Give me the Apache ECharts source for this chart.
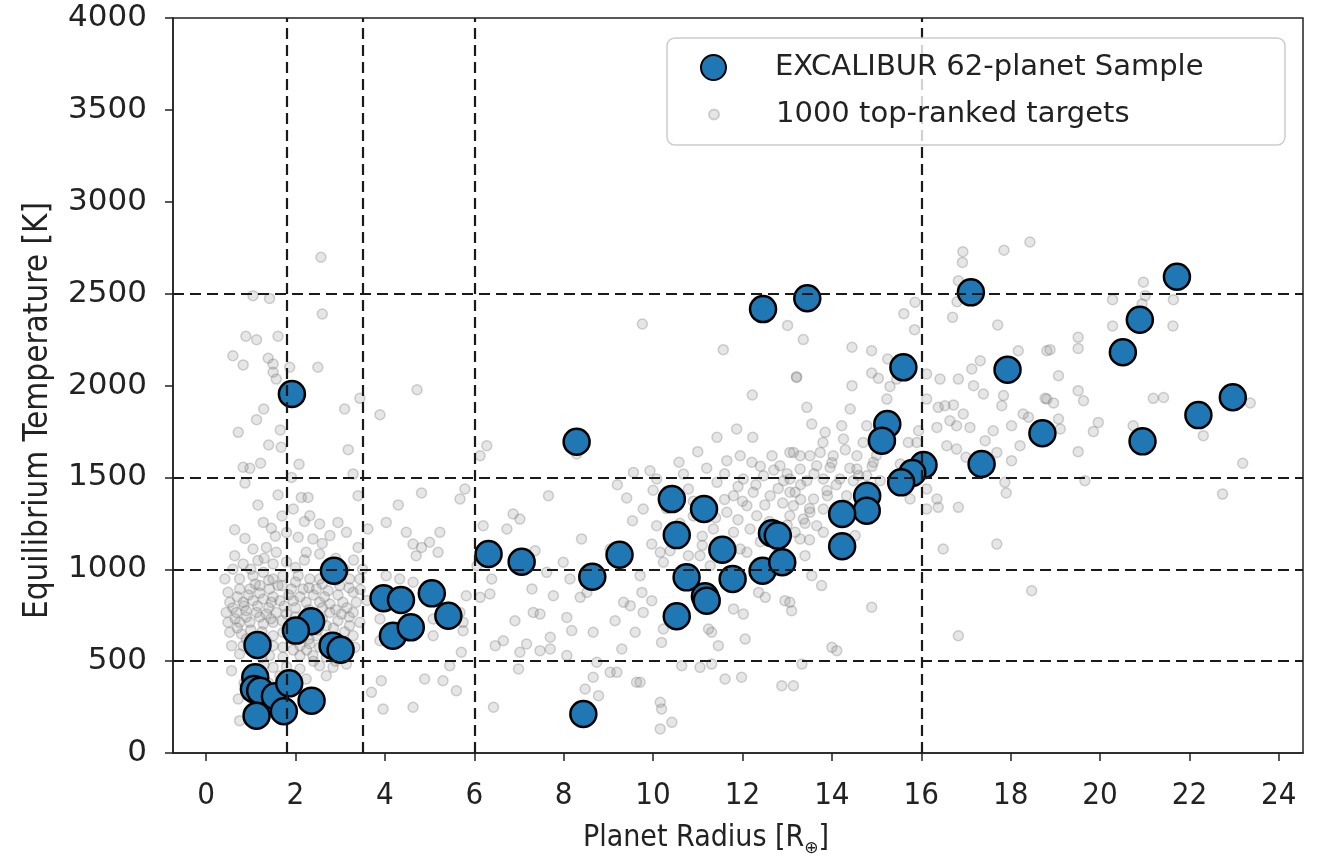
<!DOCTYPE html>
<html>
<head>
<meta charset="utf-8">
<script src="https://cdn.jsdelivr.net/npm/echarts@6/dist/echarts.min.js"></script>
<style>html,body{margin:0;padding:0;background:#fff;}#c{width:1319px;height:857px;}</style>
</head>
<body>
<div id="c"></div>
<script>
// ---- data ----
const xTicks = [0, 2, 4, 6, 8, 10, 12, 14, 16, 18, 20, 22, 24];
const yTicks = [0, 500, 1000, 1500, 2000, 2500, 3000, 3500, 4000];
const radiusCuts = [1.8, 3.5, 6, 16];
const tempCuts = [500, 1000, 1500, 2500];
const sampleName = 'EXCALIBUR 62-planet Sample';
const targetsName = '1000 top-ranked targets';

// EXCALIBUR sample [radius, Teq]
const excalibur = [
[1.92,1954],[2.86,992],[2.35,717],[2.01,666],[1.15,588],[2.83,584],[3.01,562],[1.10,412],[1.07,348],[1.21,339],
[1.54,309],[1.86,379],[2.36,285],[1.74,227],[1.13,203],[3.97,842],[4.36,833],[5.05,869],[5.42,747],[4.18,638],
[4.58,684],[8.29,1694],[6.32,1083],[7.06,1041],[8.64,959],[9.25,1079],[8.44,212],[10.42,1382],[11.14,1328],[10.53,1186],
[11.55,1106],[10.75,956],[11.78,947],[11.16,853],[11.20,829],[10.53,744],[12.66,1196],[12.79,1183],[12.45,992],[12.89,1038],
[12.46,2416],[13.45,2475],[17.11,2507],[21.72,2592],[20.89,2358],[20.51,2181],[15.60,2099],[17.93,2086],[22.97,1936],[22.20,1839],
[15.24,1790],[15.12,1700],[18.71,1740],[20.95,1696],[17.35,1573],[16.05,1567],[15.80,1524],[15.55,1473],[14.79,1400],[14.78,1319],
[14.23,1301],[14.23,1125]
];

// top-ranked targets [radius, Teq]
const targetsLowR = [
[2.57,2698],[1.05,2489],[1.42,2474],[2.60,2389],[0.89,2268],[1.13,2249],[1.61,2268],[0.60,2162],[0.83,2112],[1.39,2148],
[1.50,2117],[1.87,2099],[2.50,2099],[1.50,2072],[1.57,2035],[4.72,1977],[3.44,1930],[3.10,1872],[3.89,1841],[1.29,1872],
[1.13,1814],[0.72,1745],[1.66,1758],[1.40,1676],[1.68,1664],[3.18,1651],[2.08,1571],[1.22,1577],[0.83,1555],[0.98,1549],
[3.29,1518],[1.91,1500],
[0.87,1469],[1.61,1404],[1.16,1350],[2.13,1391],[2.28,1391],[3.40,1400],[4.82,1415],[4.30,1350],[5.68,1382],[5.79,1437],
[1.95,1328],[2.32,1291],[1.28,1255],[1.46,1223],[0.64,1215],[0.87,1168],[2.54,1246],[2.95,1255],[3.14,1201],[3.62,1219],
[2.06,1174],[2.39,1165],[2.77,1183],[3.40,1119],[4.63,1137],[4.82,1119],[5.00,1147],[5.23,1201],[5.19,1092],[4.70,1074],
[0.64,1074],[1.05,1110],[1.35,1119],[1.57,1092],[2.24,1092],[2.54,1083],[0.83,1029],[1.16,1047],[1.50,1029],[0.42,947],
[0.75,947],[1.05,965],[1.28,983],[1.50,947],[1.72,965],[2.06,965],[2.32,947],[2.54,947],[3.21,947],[3.44,947],
[0.49,875],[0.75,893],[0.98,893],[1.20,911],[1.42,893],[1.61,911],[1.91,893],[2.17,893],[2.47,893],[2.73,883],
[2.99,911],[3.29,875],[0.53,820],[0.83,820],[1.05,829],[1.28,838],[1.46,820],[1.65,829],[1.95,829],[2.24,820],
[2.54,820],[2.77,811],[3.06,820],[3.36,820],[0.45,765],[0.68,765],[0.90,774],[1.13,765],[1.35,756],[1.57,765],
[1.80,756],[2.77,765],[3.03,756],[3.29,765],[0.49,711],[0.75,711],[0.98,711],[1.28,702],[1.50,711],[2.69,693],
[3.21,693],[3.44,711],[0.53,657],[0.79,648],[1.50,638],[1.72,657],[2.47,638],[3.29,638],[0.57,584],[0.83,584],
[1.50,584],[1.72,575],[2.10,584],[2.32,593],[2.54,575],[3.33,575],[0.75,539],[1.42,530],[1.72,521],[2.10,530],
[2.39,530],[2.69,521],[3.14,530],[0.57,448],[1.50,466],[2.10,457],[2.54,475],[2.84,466],[3.14,484],[2.24,403],
[2.69,421],[0.72,294],[0.75,176],[3.92,393],[3.70,330],[3.96,239],[4.63,249],[4.89,403],[5.30,393],[5.60,339],
[5.45,475],[3.89,611],[5.08,638],[5.75,665],[5.71,548],[5.82,856],[5.75,711],[4.03,965],[4.33,947],[4.63,929],
[3.89,729],[5.08,729],[5.68,765],[4.03,1255],[4.48,1201],
[1.0,1000],[1.3,1060],[1.8,1040],[2.0,1010],[2.2,1050],[2.7,1020],[2.9,1060],[3.1,1000],[0.6,1000],[1.1,920],
[1.4,940],[1.7,910],[2.0,930],[2.3,900],[2.6,920],[2.9,940],[3.2,900],[0.7,850],[0.95,860],[1.2,870],
[1.5,850],[1.85,860],[2.1,850],[2.4,860],[2.65,850],[2.95,860],[0.6,790],[0.85,800],[1.15,800],[1.4,790],
[1.75,800],[2.0,790],[2.3,780],[2.6,790],[2.9,780],[3.15,790],[0.65,730],[0.9,740],[1.2,740],[1.45,730],
[1.7,720],[2.0,740],[2.35,740],[2.6,730],[2.95,720],[3.2,740],[0.7,680],[1.0,670],[1.25,660],[1.9,700],
[2.2,680],[2.5,670],[2.85,680],[3.1,660],[0.9,620],[1.1,630],[1.35,610],[1.9,620],[2.3,620],[2.75,630],
[3.05,610],[1.0,560],[1.25,520],[1.95,560],[2.25,560],[2.85,560],[3.0,520],[1.3,480],[1.8,470],[2.4,500],
[2.9,500],[1.0,440],[1.65,420],[2.0,400],[1.4,380],[0.85,380],[1.55,1180],[1.8,1200],[2.6,1140],[2.2,1260],
[1.7,1290],[3.3,1050],[3.5,1000],[3.45,890],[3.6,830]
];
const targetsMidR = [
[9.76,2335],[11.57,2195],[13.21,2048],[12.22,1948],[6.28,1672],[6.13,1618],[8.29,1627],[11.87,1763],[11.43,1718],[12.23,1718],
[11.00,1640],[11.65,1591],[11.95,1618],[12.66,1618],[13.14,1636],[10.58,1582],[12.21,1582],[12.84,1563],[9.56,1527],[9.93,1536],
[10.08,1491],[10.68,1518],[11.43,1473],[12.02,1491],[12.47,1509],[12.92,1482],[7.66,1400],[9.41,1388],[10.79,1437],[11.80,1400],
[12.24,1419],[12.62,1400],[13.06,1419],[9.78,1328],[6.87,1301],[7.02,1273],[6.20,1237],[6.73,1219],[9.54,1264],[10.08,1237],
[11.65,1310],[12.10,1346],[12.32,1291],[13.06,1291],[11.35,1219],[11.80,1201],[12.17,1219],[13.18,1201],[8.40,1165],[7.36,1101],
[9.97,1137],[10.16,1092],[10.38,1101],[10.79,1074],[11.05,1074],[11.95,1110],[12.10,1092],[9.04,1110],[7.99,1038],[6.06,1019],
[6.39,947],[7.62,983],[8.14,947],[9.71,965],[10.23,1038],[11.28,1019],[13.06,1056],[7.29,893],[6.13,847],[6.35,865],
[7.77,856],[8.37,847],[8.52,874],[9.34,820],[9.49,802],[9.75,874],[9.97,829],[9.78,765],[12.36,874],[12.51,847],
[12.95,829],[13.10,774],[11.80,784],[12.02,756],[7.47,756],[7.32,765],[6.91,720],[8.07,738],[9.15,720],[10.23,675],
[7.70,630],[8.18,666],[8.66,657],[9.60,657],[11.24,675],[11.31,657],[6.65,611],[7.17,593],[7.47,557],[7.70,566],
[7.02,548],[8.07,530],[9.30,566],[10.19,602],[11.46,584],[12.06,620],[6.47,584],[6.99,457],[8.74,494],[9.04,439],
[9.19,439],[10.64,475],[11.05,466],[11.31,484],[8.66,412],[9.63,385],[9.71,385],[11.61,403],[11.98,412],[12.88,366],
[8.48,348],[8.78,312],[10.16,276],[10.19,239],[6.43,249],[10.42,167],[10.16,131],
[11.2,1550],[11.6,1520],[12.4,1560],[12.7,1540],[13.0,1520],[11.9,1450],[12.3,1460],[12.8,1440],[13.3,1460],[11.6,1380],
[12.0,1370],[12.5,1350],[12.9,1360],[13.3,1380],[11.4,1280],[11.9,1270],[12.6,1260],[13.0,1240],[13.4,1250],[11.1,1180],
[12.4,1150],[13.5,1160],[10.9,1290],[10.3,1330],[10.9,1370],[10.6,1250],[11.1,1130],[12.8,1110],[10.0,1430],[9.2,1460],
[10.4,1420],[13.5,1330],[13.6,1520],[13.9,1400],[14.1,1460],[14.4,1550],[14.6,1510],[14.0,1580],[14.3,1650],[13.8,1690],
[14.7,1690],[15.0,1620],[14.9,1560]
];
const targetsHighR = [
[15.86,2453],[16.70,2371],[17.71,2329],[14.45,2208],[14.89,2189],[15.25,2144],[13.21,2044],[14.89,2068],[15.04,2039],[14.45,1999],
[15.30,1995],[16.12,2063],[16.42,2035],[16.83,2035],[17.13,2090],[17.32,2135],[17.17,1999],[17.39,1954],[17.84,1945],[18.17,2189],
[18.81,2189],[18.81,1926],[15.45,2035],[15.23,1926],[16.12,1926],[13.44,1881],[14.41,1872],[16.38,1881],[16.53,1890],[16.72,1894],
[16.94,1845],[17.80,1890],[18.28,1845],[18.40,1827],[13.55,1790],[14.22,1781],[14.78,1781],[13.85,1745],[14.26,1709],[15.71,1690],
[15.94,1754],[16.35,1772],[16.64,1808],[16.79,1781],[17.09,1772],[16.57,1672],[16.79,1654],[17.43,1700],[17.61,1754],[18.02,1781],
[18.21,1672],[18.02,1591],[17.69,1636],[13.06,1636],[13.29,1618],[13.51,1618],[13.74,1636],[14.03,1618],[14.56,1618],[13.29,1545],
[13.66,1563],[13.96,1554],[14.56,1545],[14.93,1582],[13.06,1491],[13.44,1482],[13.81,1491],[14.18,1491],[14.48,1482],[14.78,1509],
[15.08,1482],[13.18,1419],[13.59,1382],[13.89,1428],[14.33,1400],[13.14,1346],[13.51,1310],[13.81,1328],[13.36,1273],[13.66,1237],
[13.81,1201],[14.52,1183],[13.29,1165],[13.40,1074],[15.53,1573],[15.90,1690],[16.12,1437],[16.35,1382],[16.12,1328],[16.38,1337],
[16.83,1337],[15.75,1382],[16.49,1110],[17.69,1137],[17.87,1473],[14.89,793],[14.00,575],[14.11,557],[13.33,484],[13.06,820],
[13.77,911],[13.55,965],[16.83,638],[18.47,883],[13.14,366],
[20.97,2562],[20.28,2467],[21.01,2489],[21.64,2467],[19.51,2262],[19.51,2202],[18.88,2195],[19.07,2053],[18.77,1930],[18.96,1905],
[19.51,1972],[19.63,1917],[21.19,1930],[21.42,1935],[23.36,1905],[19.07,1818],[19.11,1763],[19.96,1799],[19.85,1749],[20.74,1781],
[22.31,1727],[19.51,1640],[23.19,1577],[19.66,1482],[22.74,1409],
[16.93,2728],[16.83,2570],[17.85,2736],[16.92,2670],[20.94,2444],[20.28,2324],[21.63,2324],[15.61,2391],[15.85,2304],[13.01,2327],
[13.36,2250],[18.43,2781],[17.90,1415],[17.00,1610],[16.8,2456]
];
const topTargets = targetsLowR.concat(targetsMidR, targetsHighR);

// ---- chart ----
const chart = echarts.init(document.getElementById('c'));
const FONT = 'DejaVu Sans';
const COND = 'DejaVu Sans Condensed';
const cutLines = radiusCuts.map(v => ({ xAxis: v })).concat(tempCuts.map(v => ({ yAxis: v })));

chart.setOption({
  animation: false,
  backgroundColor: '#fff',
  textStyle: { fontFamily: FONT },
  grid: { left: 173, top: 18, right: 16, bottom: 104, outerBoundsMode: 'none', containLabel: false,
    show: true, borderColor: '#222', borderWidth: 1.5, backgroundColor: 'transparent' },
  xAxis: {
    type: 'value', min: -0.74, max: 24.54,
    name: '{a|Planet Radius [R}{s|⊕}{a|]}',
    nameLocation: 'middle', nameGap: 67,
    nameTextStyle: { rich: {
      a: { fontFamily: COND, fontSize: 30, color: '#222' },
      s: { fontFamily: FONT, fontSize: 17, color: '#222', padding: [20, 0, 0, 0] }
    }, padding: [0, 64, 0, 0] },
    axisLine: { show: true, onZero: false, lineStyle: { color: '#222', width: 1.5 } },
    axisTick: { show: true, length: 8, customValues: xTicks, lineStyle: { color: '#222', width: 1.5 } },
    axisLabel: { customValues: xTicks, margin: 27, fontFamily: COND, fontSize: 31, color: '#222' },
    splitLine: { show: false }
  },
  yAxis: {
    type: 'value', min: 0, max: 4000, interval: 500,
    name: 'Equilibrium Temperature [K]',
    nameLocation: 'middle', nameGap: 118,
    nameTextStyle: { fontFamily: COND, fontSize: 33, color: '#222', padding: [0, 50, 0, 0] },
    axisLine: { show: true, onZero: false, lineStyle: { color: '#222', width: 1.5 } },
    axisTick: { show: true, length: 8, lineStyle: { color: '#222', width: 1.5 } },
    axisLabel: { margin: 26, fontSize: 31, color: '#222', formatter: v => String(v) },
    splitLine: { show: false }
  },
  legend: [
    { data: [sampleName], left: 700, top: 53, padding: 0, orient: 'vertical', icon: 'circle',
      itemWidth: 25, itemHeight: 25, z: 12, selectedMode: false,
      textStyle: { fontSize: 29, color: '#222', padding: [0, 0, 0, 44] } },
    { data: [targetsName], left: 708, top: 100, padding: 0, orient: 'vertical', icon: 'circle',
      itemWidth: 10, itemHeight: 10, z: 12, selectedMode: false,
      textStyle: { fontSize: 29, color: '#222', padding: [0, 0, 0, 52] } }
  ],
  graphic: [{
    type: 'rect', z: 10, silent: true,
    shape: { x: 667, y: 38, width: 618, height: 107, r: 8 },
    style: { fill: 'rgba(255,255,255,0.8)', stroke: '#cccccc', lineWidth: 1.5 }
  }],
  series: [
    {
      name: targetsName, type: 'scatter', z: 2, data: topTargets, symbolSize: 10,
      itemStyle: { color: 'rgba(128,128,128,0.2)', borderColor: 'rgba(110,110,110,0.3)', borderWidth: 1.5, opacity: 1 },
      emphasis: { disabled: true }
    },
    {
      name: 'cuts', type: 'line', z: 3, data: [], silent: true,
      markLine: { silent: true, symbol: ['none', 'none'], label: { show: false },
        lineStyle: { color: '#1a1a1a', width: 2.2, type: [11, 6] }, data: cutLines }
    },
    {
      name: sampleName, type: 'scatter', z: 4, data: excalibur, symbolSize: 26,
      itemStyle: { color: '#1f77b4', borderColor: '#000', borderWidth: 2.5, opacity: 1 },
      emphasis: { disabled: true }
    }
  ]
});
</script>
</body>
</html>
